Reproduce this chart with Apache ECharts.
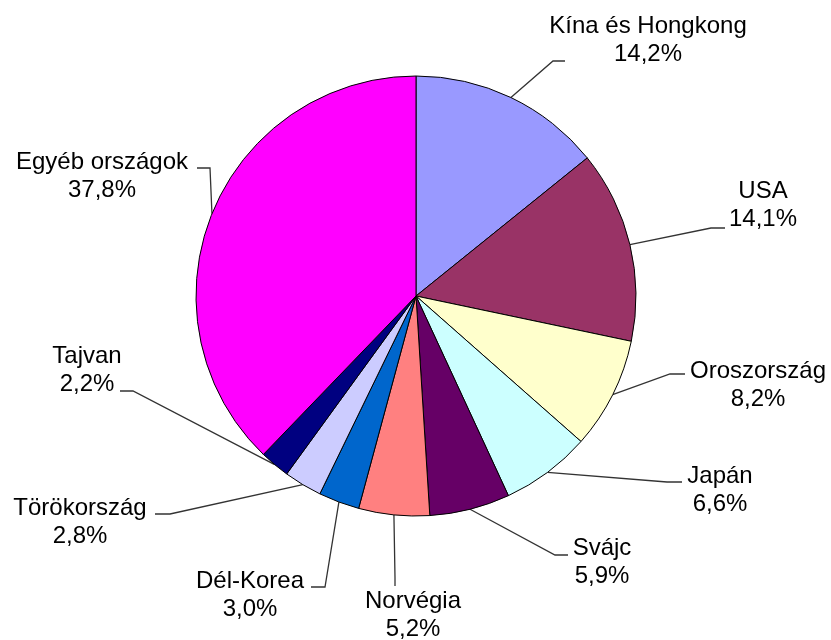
<!DOCTYPE html>
<html>
<head>
<meta charset="utf-8">
<script src="https://cdn.jsdelivr.net/npm/echarts@6/dist/echarts.min.js"></script>
<style>
html,body{margin:0;padding:0;background:#fff;}
#chart{width:831px;height:640px;}
</style>
</head>
<body>
<div id="chart"></div>
<script>
// Data
var categories = ['Kína és Hongkong', 'USA', 'Oroszország', 'Japán', 'Svájc', 'Norvégia', 'Dél-Korea', 'Törökország', 'Tajvan', 'Egyéb országok'];
var shares = [14.2, 14.1, 8.2, 6.6, 5.9, 5.2, 3.0, 2.8, 2.2, 37.8];
var colors = ['#9999FF', '#993366', '#FFFFCC', '#CCFFFF', '#660066', '#FF8080', '#0066CC', '#CCCCFF', '#000080', '#FF00FF'];

// Label placement (styling): label centre, leader elbow, leader end
var labelPos = [
  {x: 648, y: 40,  elbow: [553, 61],  end: [565, 61]},
  {x: 763, y: 205, elbow: [711, 228], end: [725, 228]},
  {x: 758, y: 385, elbow: [670, 374], end: [685, 374]},
  {x: 720, y: 490, elbow: [667, 482], end: [682, 482]},
  {x: 602, y: 562, elbow: [555, 555], end: [568, 555]},
  {x: 413, y: 615, elbow: [395, 578], end: [395, 586]},
  {x: 250, y: 595, elbow: [325, 587], end: [311, 587]},
  {x: 80,  y: 522, elbow: [170, 514], end: [155, 514]},
  {x: 87,  y: 370, elbow: [133, 391], end: [120, 391]},
  {x: 102, y: 176, elbow: [210, 168], end: [197, 168]}
];

var chart = echarts.init(document.getElementById('chart'), null, {renderer: 'canvas'});
var seriesData = categories.map(function (c, i) {
  return {name: c, value: shares[i], itemStyle: {color: colors[i]}};
});

chart.setOption({
  backgroundColor: '#ffffff',
  animation: false,
  series: [{
    type: 'pie',
    center: [416, 296],
    radius: [0, 220],
    startAngle: 90,
    clockwise: true,
    avoidLabelOverlap: false,
    data: seriesData,
    itemStyle: {borderColor: '#000000', borderWidth: 1},
    emphasis: {disabled: true},
    label: {
      show: true,
      position: 'outside',
      color: '#000000',
      fontFamily: '"Liberation Sans", Arial, sans-serif',
      fontSize: 24,
      lineHeight: 28,
      align: 'center',
      formatter: function (p) {
        return p.name + '\n' + p.value.toFixed(1).replace('.', ',') + '%';
      }
    },
    labelLine: {
      show: true,
      length: 20,
      length2: 15,
      smooth: false,
      lineStyle: {color: '#333333', width: 1.3}
    },
    labelLayout: function (params) {
      var lp = labelPos[params.dataIndex];
      var start = params.labelLinePoints ? params.labelLinePoints[0] : null;
      var res = {
        x: lp.x,
        y: lp.y,
        align: 'center',
        verticalAlign: 'middle'
      };
      if (start) {
        res.labelLinePoints = [start, lp.elbow, lp.end];
      }
      return res;
    }
  }]
});
</script>
</body>
</html>
